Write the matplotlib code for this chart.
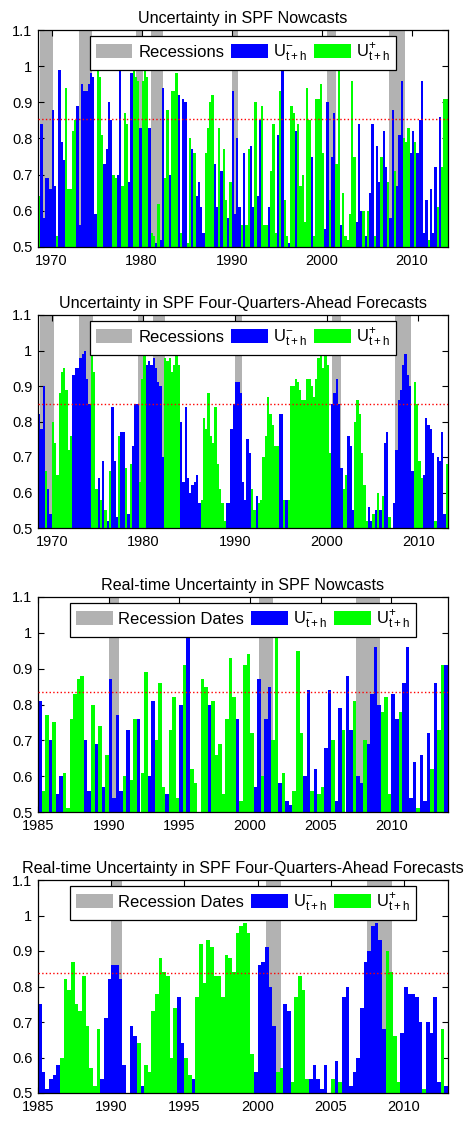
import numpy as np
import matplotlib.pyplot as plt
from matplotlib.patches import Patch

plt.rcParams['font.family'] = ['Liberation Sans', 'DejaVu Sans']
plt.rcParams['mathtext.fontset'] = 'custom'
plt.rcParams['mathtext.rm'] = 'Liberation Sans'
plt.rcParams['mathtext.it'] = 'Liberation Sans:italic'

# Recession bands, decimal years as drawn in the chart
rec_start = [1968.75, 1973.0, 1979.4, 1981.0, 1990.0, 2000.6, 2007.5]
rec_end = [1970.2, 1974.5, 1980.1, 1982.4, 1990.75, 2001.6, 2009.2]

# Quarterly uncertainty values: negative sign = U- quarter, positive = U+ quarter
# 1) SPF nowcasts, from 1968.5
now_vals = [.64, -.84, -.58, -.69, -.69, -.66, -.88, -.67, .53, -.99, -.79, -.74, .94, .66, .66, .82,
            .85, -.89, -.56, -.95, -.93, -.93, -.95, -.98, -.97, -.59, 1.0, .97, .81, -.73, -.77, -.90,
            -.85, .70, .69, -.70, -.99, .67, .87, .84, -.68, -.98, .99, .97, .96, -.83, .96, 1.0,
            .97, -.83, .54, .53, -.51, .62, -.52, -.94, .69, .88, -.70, .93, .93, .98,
            -.92, .54, -.91, -.90, .51, .80, -.77, .76, -.64, -.68, -.61, -.54, .76, .83, .90, .92,
            -.73, -.61, .83, -.71, .77, .63, -.58, .68, -.93, -.59, -.80, -.61, .56, -.76, .56, .77,
            -.78, -.61, .90, -.64, -.85, .89, .56, .56, -.61, .71, .84, .54, -.81, .93, -1.0, .63,
            .53, -.51, .89, .87, -.82, .84, .67, .70, .57, .94, .85, -.75, .53, .91,
            .91, .95, .76, -.55, -.90, .63, -.75, -.87, .73, .99, -.56, .65, .53, .52, .59, .96,
            .75, -.57, -.84, -.60, .60, -.53, .60, -.65, -.84, .53, -.78, -.68, .75, -.82, -.72, .68,
            -.58, -.88, .71, -.67, -.81, -.96, .80, .79, .83, -.76, -.82, .79, -.76, -.85, -.96, -.54,
            -.63, .52, -.66, -.54, -.72, .61, -.86, .72, .91, .91]

# 2) SPF four-quarters-ahead, from 1968.5
fq_vals = [-.82, -.78, -.90, .66, -.61, -.54, .80, .74, .65, .88, .94, .95, .89, .72, .76, -.93,
           -.95, -.95, -.98, -.99, -1.0, -.92, -.85, 1.0, .94, .61, -.64, .58, -.69, .55, -.52, .66,
           -.84, -.69, -.53, .76, -.77, -.77, .67, -.54, .68, -.73, -.85, -.85, .63, .92, .99, -.96,
           -.97, -.96, -.98, -.95, -.91, -.90, -.70, .98, .97, .98, .94, .96, .99, .96,
           -.80, -.63, -.84, -.64, -.60, -.62, -.63, -.65, -.57, .58, .81, .78, .88, .76, .74, .84,
           .68, .61, .57, .52, -.57, -.57, -.78, -.85, -.91, -.91, -.88, -.63, -.58, -.75, -.71, .61,
           .55, -.59, .57, .58, .70, .76, .87, .82, .79, .73, .73, -.82, -.82, .58, -.58, .58,
           .90, .90, .92, .91, .89, .86, .86, .92, .92, .90, .87, .92, .98, .99,
           .95, .99, .96, .71, -.85, -.88, -.92, -.85, -.67, .61, .65, -.76, -.73, -.55, .80, .86,
           .82, .71, .62, .52, -.56, -.52, .54, -.55, .60, -.55, .59, -.74, -.77, .53, -.50, -.57,
           -.72, -.86, -.89, -.96, -.99, -.93, -.90, -.66, .91, .85, .69, .64, -.65, -.81, -.79, -.78,
           -.71, .52, -.70, -.69, -.77, -.54, .68]

# 3) real-time nowcasts, from 1985.0
rt_now_vals = [-.81, .56, .77, -.70, .75, -.55, -.60, .61, .51, .76, .83, .87, .88, -.70, -.56, .80,
               -.69, .74, -.57, .66, -.87, -.54, -.77, -.56, .60, -.73, .59, .76, -.76, .61, .89, -.60,
               -.81, .70, .86, .57, -.55, .73, .82, .54,
               -.80, .91, -1.0, .62, .58, .50, .87, .85, -.80, .81, .66, .69, .55, .76, .93, .82,
               -.76, .53, .91, .94, .72, -.57, -.87, .60, -.76, -.85, .70, .99, -.58, .61, -.53, -.52,
               .56, .95, .72, -.60, -.84, .56, -.62, .55,
               .57, -.68, -.84, .70, -.53, -.79, .73, -.88, -.73, .81, -.60, -.58, .70, -.69, -.83, -.96,
               -.80, .78, .82, .55, -.83, -.76, .78, -.86, -.96, -.54, -.64, .51, -.66, -.53, -.72, .62,
               -.86, .73, .91, -.91]

# 4) real-time four-quarters-ahead, from 1985.0
rt_fq_vals = [-.75, -.56, -.51, -.54, -.55, -.58, .60, .82, .79, .87, .75, .73, .83, .69, .57, .52,
              .68, -.54, -.71, -.82, -.86, -.86, -.82, -.58, -.50, -.69, -.66, .64, -.52, .58, .56, .73,
              .78, .88, .84, .83, .60, .74,
              -.77, -.64, .60, .55, -.54, .77, .92, .81, .93, .91, .83, .83, .77, .89, .88, .84,
              .95, .97, .98, .95, .61, -.56, -.86, -.87, -.91, -.80, -.69, .56, .57, -.75, -.73, .53,
              .77, .83, .79, .54, -.54, -.58,
              -.54, -.51, -.58, -.50, .54, -.59, .53, -.77, -.80, -.52, -.56, -.60, -.74, -.87, -.90, -.97,
              -.98, -.93, -.68, .90, .84, .66, .53, -.67, -.80, -.78, -.78, -.77, -.70, .51, -.70, -.67,
              -.77, -.53, .68, -.52]

titles = ['Uncertainty in SPF Nowcasts',
          'Uncertainty in SPF Four-Quarters-Ahead Forecasts',
          'Real-time Uncertainty in SPF Nowcasts',
          'Real-time Uncertainty in SPF Four-Quarters-Ahead Forecasts']
starts = [1968.5, 1968.5, 1985.0, 1985.0]
thresholds = [0.853, 0.85, 0.835, 0.837]
rec_labels = ['Recessions', 'Recessions', 'Recession Dates', 'Recession Dates']
xticks_list = [np.arange(1970, 2011, 10), np.arange(1970, 2011, 10),
               np.arange(1985, 2011, 5), np.arange(1985, 2011, 5)]
series = [now_vals, fq_vals, rt_now_vals, rt_fq_vals]

W, H = 468, 1127
fig = plt.figure(figsize=(W / 100, H / 100), dpi=100)
tops = [30, 315, 597, 880]
bottoms = [247, 528, 812, 1093]

for i in range(4):
    ax = fig.add_axes([38 / W, 1 - bottoms[i] / H, 410 / W, (bottoms[i] - tops[i]) / H])
    v = np.array(series[i])
    x = starts[i] + 0.25 * np.arange(len(v))
    u_minus = np.where(v < 0, -v, np.nan)
    u_plus = np.where(v > 0, v, np.nan)

    for s, e in zip(rec_start, rec_end):
        ax.axvspan(s, e, color='#b2b2b2', lw=0, zorder=0)
    ax.bar(x, u_minus, width=0.25, align='edge', color='#0000ff', lw=0, zorder=2)
    ax.bar(x, u_plus, width=0.25, align='edge', color='#00ff00', lw=0, zorder=2)
    ax.axhline(thresholds[i], color='red', ls=':', lw=1, zorder=3)

    ax.set_xlim(starts[i], x[-1] + 0.25)
    ax.set_ylim(0.5, 1.1)
    ax.set_xticks(xticks_list[i])
    ax.set_yticks([0.5, 0.6, 0.7, 0.8, 0.9, 1.0, 1.1])
    ax.set_yticklabels(['0.5', '0.6', '0.7', '0.8', '0.9', '1', '1.1'])
    ax.tick_params(direction='in', top=True, right=True, length=4, labelsize=10.5)
    ax.tick_params(axis='x', pad=5)
    ax.tick_params(axis='y', pad=4)
    for sp in ax.spines.values():
        sp.set_linewidth(0.9)
    ax.set_title(titles[i], fontsize=11.6, pad=5)

    handles = [Patch(facecolor='#b2b2b2', edgecolor='none'),
               Patch(facecolor='#0000ff', edgecolor='none'),
               Patch(facecolor='#00ff00', edgecolor='none')]
    labels = [rec_labels[i], r'U$^{-}_{\mathrm{t+h}}$', r'U$^{+}_{\mathrm{t+h}}$']
    leg = ax.legend(handles, labels, loc='upper center', ncol=3, fontsize=12,
                    frameon=True, fancybox=False, handlelength=2.2, handleheight=0.9,
                    handletextpad=0.35, columnspacing=0.4, borderaxespad=0.35,
                    borderpad=0.35)
    leg.get_frame().set_edgecolor('black')
    leg.get_frame().set_linewidth(0.9)
    leg.get_frame().set_alpha(1)
    leg.set_zorder(5)

fig.savefig('out.png', dpi=100)
